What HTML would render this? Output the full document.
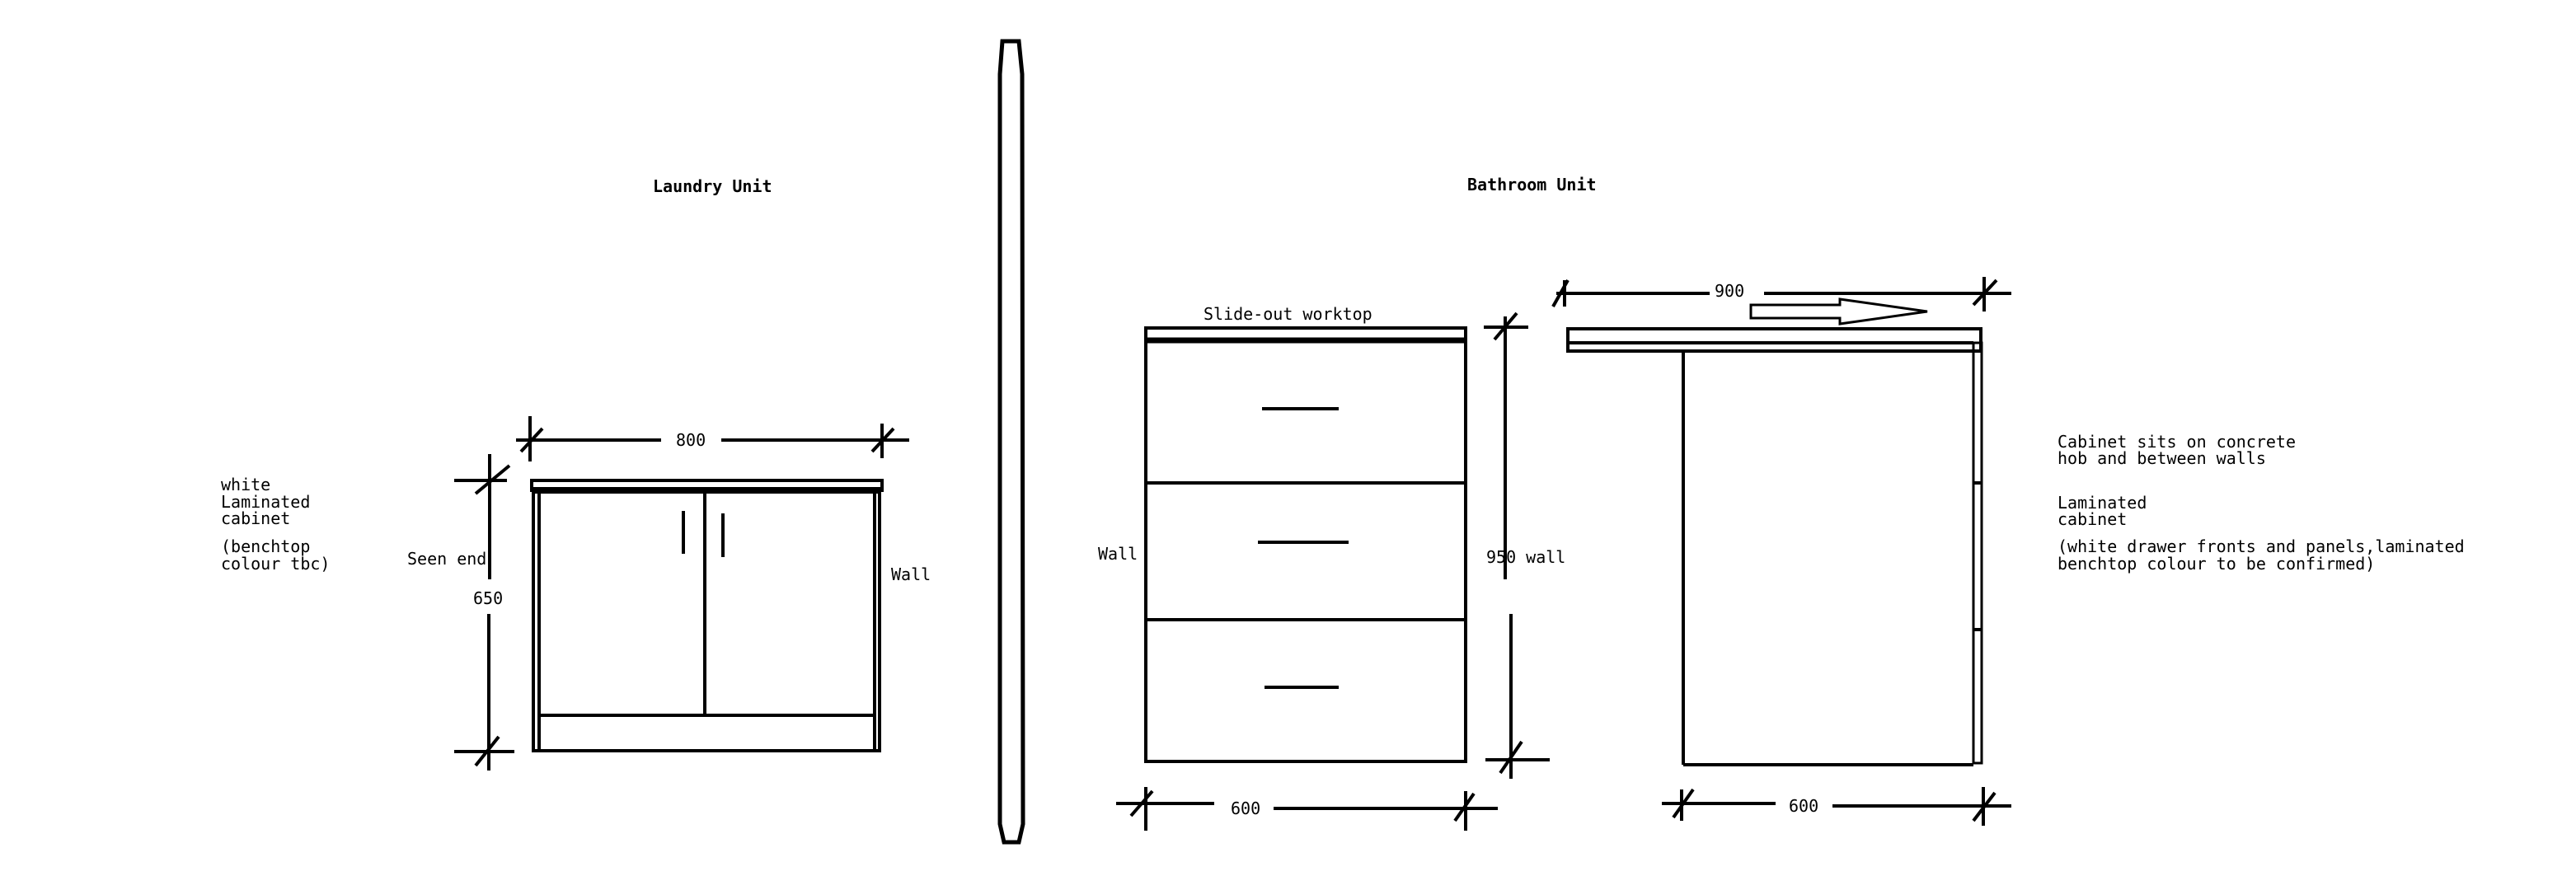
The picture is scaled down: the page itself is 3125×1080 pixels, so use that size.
<!DOCTYPE html>
<html><head><meta charset="utf-8"><style>
html,body{margin:0;padding:0;background:#fff;}
svg text{font-family:"DejaVu Sans Mono","Liberation Mono",monospace;font-size:20px;fill:#000;}
</style></head><body>
<svg width="3125" height="1075" viewBox="0 0 3125 1075" xmlns="http://www.w3.org/2000/svg">
<rect width="3125" height="1075" fill="#fff"/>
<g stroke="#000" stroke-width="4" fill="none">
<!-- divider bar -->
<path d="M1216 50 L1236 50 L1240 90 L1241 1000 L1236 1022 L1218 1022 L1213 1000 L1213 90 Z" stroke-width="5"/>

<!-- Laundry cabinet -->
<rect x="645" y="583" width="425" height="12"/>
<line x1="646" y1="594" x2="1068" y2="594" stroke-width="6"/>
<rect x="647" y="597" width="420" height="314"/>
<line x1="654" y1="597" x2="654" y2="911"/>
<line x1="1061" y1="597" x2="1061" y2="911"/>
<line x1="654" y1="868" x2="1061" y2="868"/>
<line x1="855" y1="597" x2="855" y2="868"/>
<line x1="829" y1="620" x2="829" y2="672"/>
<line x1="877" y1="623" x2="877" y2="676"/>
<!-- 800 dim -->
<line x1="626" y1="534" x2="802" y2="534"/>
<line x1="875" y1="534" x2="1103" y2="534"/>
<line x1="643" y1="505" x2="643" y2="560"/>
<line x1="1070" y1="514" x2="1070" y2="556"/>
<line x1="632" y1="548" x2="658" y2="520"/>
<line x1="1058" y1="548" x2="1084" y2="520"/>
<!-- 650 dim -->
<line x1="594" y1="551" x2="594" y2="703"/>
<line x1="593" y1="745" x2="593" y2="935"/>
<line x1="551" y1="583" x2="615" y2="583"/>
<line x1="551" y1="912" x2="624" y2="912"/>
<line x1="577" y1="599" x2="618" y2="565"/>
<line x1="577" y1="929" x2="605" y2="894"/>

<!-- Bathroom front cabinet -->
<rect x="1390" y="398" width="388" height="526"/>
<line x1="1390" y1="413" x2="1778" y2="413" stroke-width="7"/>
<line x1="1390" y1="586" x2="1778" y2="586"/>
<line x1="1390" y1="752" x2="1778" y2="752"/>
<line x1="1531" y1="496" x2="1624" y2="496"/>
<line x1="1526" y1="658" x2="1636" y2="658"/>
<line x1="1534" y1="834" x2="1624" y2="834"/>
<!-- 950 dim -->
<line x1="1826" y1="384" x2="1826" y2="703"/>
<line x1="1833" y1="745" x2="1833" y2="945"/>
<line x1="1800" y1="397" x2="1854" y2="397"/>
<line x1="1802" y1="922" x2="1880" y2="922"/>
<line x1="1813" y1="412" x2="1840" y2="380"/>
<line x1="1820" y1="938" x2="1846" y2="900"/>
<!-- 600 dim left -->
<line x1="1354" y1="975" x2="1473" y2="975"/>
<line x1="1545" y1="981" x2="1817" y2="981"/>
<line x1="1390" y1="955" x2="1390" y2="1008"/>
<line x1="1778" y1="960" x2="1778" y2="1008"/>
<line x1="1372" y1="990" x2="1398" y2="960"/>
<line x1="1765" y1="996" x2="1788" y2="963"/>

<!-- Bathroom side view -->
<rect x="1902" y="399" width="501" height="27"/>
<line x1="1902" y1="416" x2="2394" y2="416"/>
<line x1="2042" y1="426" x2="2042" y2="928"/>
<line x1="2042" y1="928" x2="2394" y2="928"/>
<rect x="2394" y="416" width="10" height="510" stroke-width="3"/>
<line x1="2394" y1="586" x2="2404" y2="586"/>
<line x1="2394" y1="764" x2="2404" y2="764"/>
<!-- arrow -->
<path d="M2124 370 L2232 370 L2232 363 L2338 378 L2232 393 L2232 386 L2124 386 Z" stroke-width="3"/>
<!-- 900 dim -->
<line x1="1888" y1="356" x2="2074" y2="356"/>
<line x1="2140" y1="356" x2="2440" y2="356"/>
<line x1="1898" y1="340" x2="1898" y2="372"/>
<line x1="2407" y1="336" x2="2407" y2="378"/>
<line x1="1884" y1="372" x2="1902" y2="340"/>
<line x1="2394" y1="370" x2="2422" y2="340"/>
<!-- 600 dim right -->
<line x1="2016" y1="975" x2="2154" y2="975"/>
<line x1="2223" y1="978" x2="2440" y2="978"/>
<line x1="2040" y1="958" x2="2040" y2="996"/>
<line x1="2406" y1="955" x2="2406" y2="1002"/>
<line x1="2030" y1="992" x2="2054" y2="958"/>
<line x1="2394" y1="996" x2="2420" y2="962"/>
</g>

<text x="792" y="233" font-weight="bold">Laundry Unit</text>
<text x="1780" y="231" font-weight="bold">Bathroom Unit</text>

<text x="268" y="595">white</text>
<text x="268" y="616">Laminated</text>
<text x="268" y="636">cabinet</text>
<text x="268" y="670">(benchtop</text>
<text x="268" y="691">colour tbc)</text>

<text x="494" y="685">Seen end</text>
<text x="574" y="733">650</text>
<text x="1081" y="704">Wall</text>
<text x="820" y="541">800</text>

<text x="1460" y="388">Slide-out worktop</text>
<text x="1332" y="679">Wall</text>
<text x="1803" y="683">950 wall</text>
<text x="1493" y="988">600</text>

<text x="2080" y="360">900</text>
<text x="2170" y="985">600</text>

<text x="2496" y="543">Cabinet sits on concrete</text>
<text x="2496" y="563">hob and between walls</text>
<text x="2496" y="617">Laminated</text>
<text x="2496" y="637">cabinet</text>
<text x="2496" y="670">(white drawer fronts and panels,laminated</text>
<text x="2496" y="691">benchtop colour to be confirmed)</text>
</svg>
</body></html>
